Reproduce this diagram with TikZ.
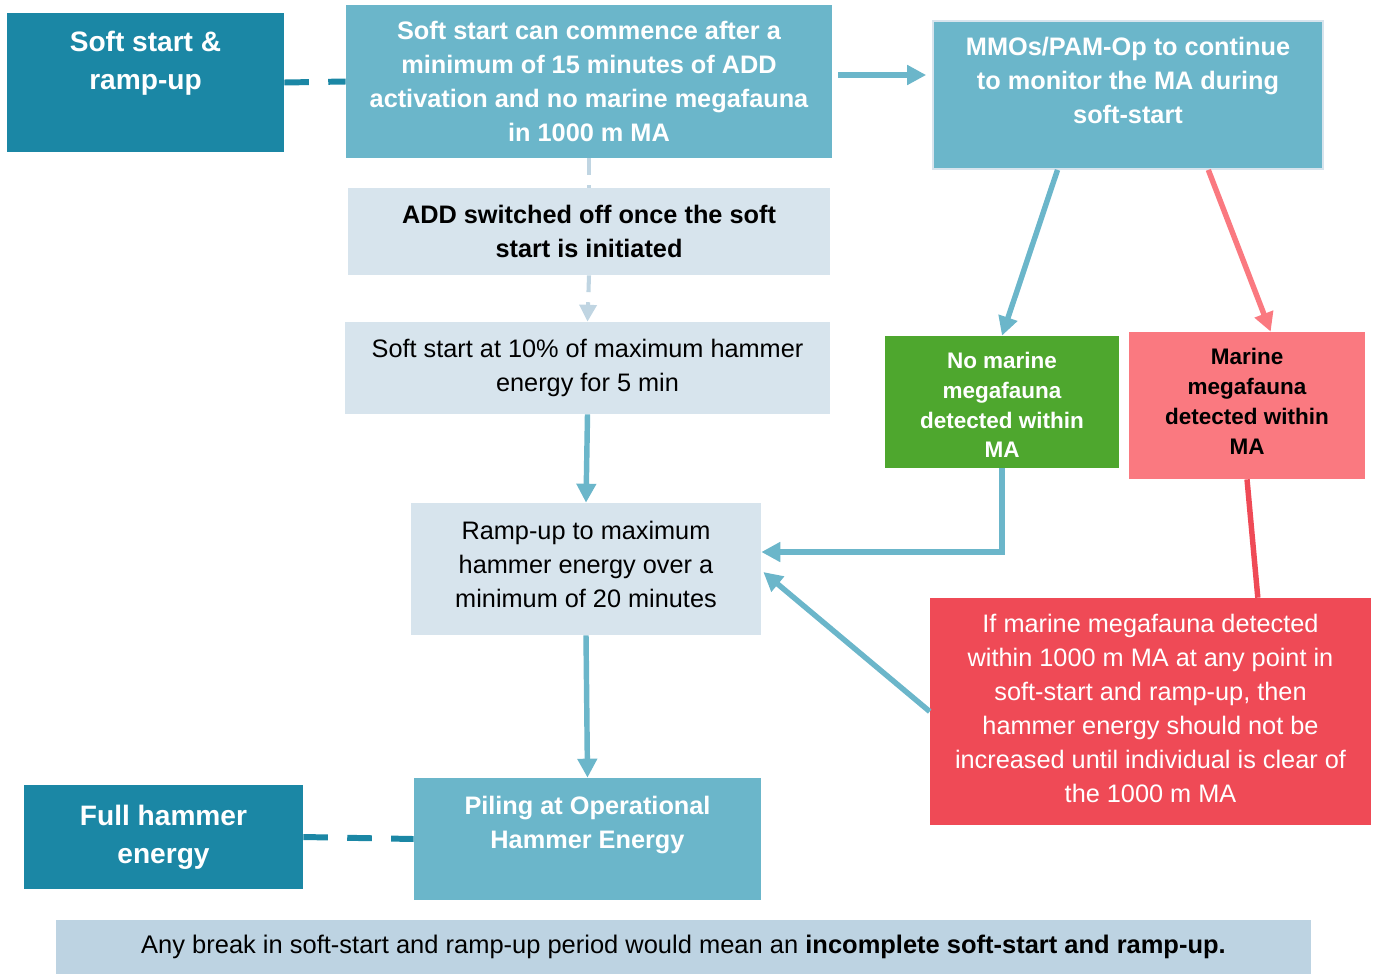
\documentclass[tikz,border=0pt]{standalone}
\usepackage{fontspec}
\setmainfont{Liberation Sans}
\usepackage{tikz}
\usetikzlibrary{%
  positioning
 ,arrows.meta
 ,calc
}
\definecolor{hdrblue}{RGB}{27,135,165}
\definecolor{midblue}{RGB}{107,182,202}
\definecolor{paleblue}{RGB}{215,228,237}
\definecolor{barblue}{RGB}{189,211,226}
\definecolor{linkpale}{RGB}{192,213,226}
\definecolor{okgreen}{RGB}{78,167,46}
\definecolor{alertpink}{RGB}{250,121,128}
\definecolor{alertred}{RGB}{239,74,86}
\tikzstyle{hdr}=[fill=hdrblue,text=white,align=center,inner sep=0pt,font=\fontsize{16}{21.5}\selectfont\bfseries]
\tikzstyle{act}=[fill=midblue,text=white,align=center,inner sep=0pt,font=\fontsize{14.4}{19.3}\selectfont\bfseries]
\tikzstyle{info}=[fill=paleblue,text=black,align=center,inner sep=0pt,font=\fontsize{14.4}{19.3}\selectfont]
\tikzstyle{res}=[align=center,inner sep=0pt,font=\fontsize{12.8}{17}\selectfont\bfseries]
\tikzstyle{flow}=[draw=midblue,line width=3.1pt,-{Triangle[length=10.8pt,width=10.8pt]}]
\tikzstyle{tie}=[draw=hdrblue,line width=3.4pt,dash pattern=on 14pt off 11pt]
\tikzstyle{faint}=[draw=linkpale,line width=2.3pt,dash pattern=on 9.6pt off 5.7pt]

\begin{document}
\begin{tikzpicture}[x=0.02cm,y=-0.02cm]
  \useasboundingbox (0,0) rectangle (1378,974);
% left column labels
  \node[hdr,minimum width=5.54cm,minimum height=2.78cm] (ssr) at (145.5,82.5)
    {Soft start \&\\ramp-up\\[3.6pt]\mbox{}};
  \node[hdr,minimum width=5.58cm,minimum height=2.08cm] (fullh) at (163.5,837)
    {Full hammer\\energy};
% main sequence
  \node[act,minimum width=9.72cm,minimum height=3.06cm] (commence) at (589,81.5)
    {Soft start can commence after a\\minimum of 15 minutes of ADD\\activation and no marine megafauna\\in 1000 m MA};
  \node[info,font=\fontsize{14.4}{19.3}\selectfont\bfseries,minimum width=9.64cm,minimum height=1.74cm] (addoff) at (589,231.5)
    {ADD switched off once the soft\\start is initiated};
  \node[info,minimum width=9.7cm,minimum height=1.84cm] (soft10) at (587.5,368)
    {Soft start at 10\% of maximum hammer\\energy for 5 min};
  \node[info,minimum width=7cm,minimum height=2.64cm] (ramp) at (586,569)
    {Ramp-up to maximum\\hammer energy over a\\minimum of 20 minutes\\[-13.6pt]\mbox{}};
  \node[act,minimum width=6.94cm,minimum height=2.44cm] (piling) at (587.5,839)
    {Piling at Operational\\Hammer Energy\\[0pt]\mbox{}};
% monitoring branch
  \node[act,draw=paleblue,line width=1pt,minimum width=7.8cm,minimum height=2.96cm] (mmo) at (1128,95)
    {MMOs/PAM-Op to continue\\to monitor the MA during\\soft-start\\[-2.3pt]\mbox{}};
  \node[res,fill=okgreen,text=white,minimum width=4.68cm,minimum height=2.64cm] (nodet) at (1002,402)
    {\mbox{}\\[-4.4pt]No marine\\megafauna\\detected within\\MA};
  \node[res,fill=alertpink,text=black,minimum width=4.72cm,minimum height=2.94cm] (det) at (1247,405.5)
    {Marine\\megafauna\\detected within\\MA\\[-12.5pt]\mbox{}};
  \node[info,fill=alertred,text=white,minimum width=8.82cm,minimum height=4.54cm] (ifdet) at (1150.5,711.5)
    {If marine megafauna detected\\within 1000 m MA at any point in\\soft-start and ramp-up, then\\hammer energy should not be\\increased until individual is clear of\\the 1000 m MA\\[-15.9pt]\mbox{}};
% note
  \node[info,fill=barblue,font=\fontsize{14.5}{18}\selectfont,minimum width=25.1cm,minimum height=1.08cm] (note) at (683.5,947)
    {Any break in soft-start and ramp-up period would mean an \textbf{incomplete soft-start and ramp-up.}};
%
  \draw[tie] (ssr.east) -- (commence.west);
  \draw[tie] (fullh.east) -- (piling.west);
  \draw[faint] (commence.south) -- (addoff.north);
  \draw[faint,-{Triangle[length=9.6pt,width=9.6pt]}] (addoff.south) -- (soft10.north);
  \draw[flow] ($(commence.east)+(6,-6.5)$) -- ($(mmo.west)+(-6,-20)$);
  \draw[flow] (soft10.south) -- (ramp.north);
  \draw[flow] (ramp.south) -- (piling.north);
  \draw[flow] ($(mmo.south west)!0.32!(mmo.south east)$) -- (nodet.north);
  \draw[flow,draw=alertpink] ($(mmo.south west)!0.705!(mmo.south east)$) -- ($(det.north west)!0.6!(det.north east)$);
  \draw[flow] (nodet.south) |- ($(ramp.east)+(0,-17)$);
  \draw[flow] (ifdet.west) -- ($(ramp.east)+(2,3)$);
  \draw[draw=alertred,line width=3.1pt] (det.south) -- ($(ifdet.north west)!0.743!(ifdet.north east)$);

\end{tikzpicture}
\end{document}
